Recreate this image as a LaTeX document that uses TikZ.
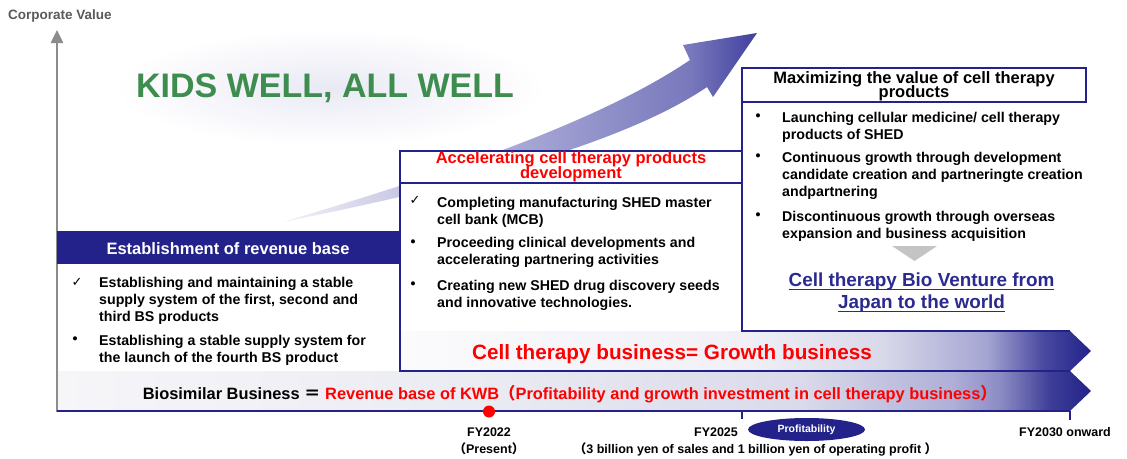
\documentclass[tikz,border=0pt]{standalone}
\usepackage{fontspec}
\setmainfont{Liberation Sans}
\newfontfamily\cjkfont{Noto Sans CJK JP}
\newfontfamily\symbfont{DejaVu Sans}
\usetikzlibrary{arrows.meta,shapes.geometric}

% palette
\definecolor{navy}{HTML}{22228A}
\definecolor{kwbred}{HTML}{FF0000}
\definecolor{axisgray}{HTML}{8C8C8C}
\definecolor{labelgray}{HTML}{5A5A5A}
\definecolor{kidsgreen}{HTML}{3E8C4E}
\definecolor{glow}{HTML}{E9E9F5}
\definecolor{venture}{HTML}{2B2B8F}
\definecolor{pointer}{HTML}{C4C4C4}
% growth band stops
\definecolor{gbA}{HTML}{FBFBFD}
\definecolor{gbB}{HTML}{F0F0F6}
\definecolor{gbC}{HTML}{D8D8EA}
\definecolor{gbD}{HTML}{A4A4D2}
\definecolor{gbE}{HTML}{4A4AA0}
% revenue band stops
\definecolor{rbA}{HTML}{F6F6F9}
\definecolor{rbB}{HTML}{EAEAF2}
\definecolor{rbC}{HTML}{DADAEA}
\definecolor{rbD}{HTML}{B0B0D8}
\definecolor{rbE}{HTML}{8C8CC4}
\definecolor{rbF}{HTML}{3E3E98}
% swoosh stops
\definecolor{swA}{HTML}{F2F2F8}
\definecolor{swB}{HTML}{C8C8E4}
\definecolor{swC}{HTML}{A0A0D2}
\definecolor{swD}{HTML}{7878BC}
\definecolor{swE}{HTML}{40409E}

\pgfdeclarehorizontalshading{growthband}{100bp}{color(0bp)=(gbA); color(25bp)=(gbA);
  color(50bp)=(gbB); color(60bp)=(gbC); color(67.5bp)=(gbD); color(71.5bp)=(gbE);
  color(75bp)=(navy); color(100bp)=(navy)}
\pgfdeclarehorizontalshading{revenueband}{100bp}{color(0bp)=(rbA); color(25bp)=(rbA);
  color(46.5bp)=(rbB); color(61bp)=(rbC); color(68.2bp)=(rbD); color(70.6bp)=(rbE);
  color(73bp)=(rbF); color(75bp)=(navy); color(100bp)=(navy)}
\pgfdeclarehorizontalshading{swoosh}{100bp}{color(0bp)=(swA); color(25bp)=(swA);
  color(37.5bp)=(swB); color(53bp)=(swC); color(68bp)=(swD); color(75bp)=(swE);
  color(100bp)=(swE)}

\newcommand\kwbitemfont{\fontsize{14.2}{17}\selectfont\bfseries}
\newcommand\kwbheadfont{\fontsize{16.5}{14.8}\selectfont\bfseries\lineskiplimit=-20pt}
\newcommand\kwbtickfont{\fontsize{12.5}{14}\selectfont\bfseries}
% underline drawn just below the baseline, through the descenders
\newsavebox\kwbulbox
\newcommand\kwbul[1]{\sbox\kwbulbox{#1}\rlap{\rule[-3pt]{\wd\kwbulbox}{1.2pt}}\usebox\kwbulbox}

\begin{document}
\begin{tikzpicture}[x=1pt,y=-1pt,
  boxline/.style={draw=navy, line width=2pt},
  itemtext/.style={anchor=north west, inner sep=0pt, align=left, font=\kwbitemfont},
  bulletmark/.style={anchor=center, inner sep=0pt, font=\kwbitemfont},
  checkmark/.style={anchor=center, inner sep=0pt, font=\symbfont\fontsize{13}{13}\selectfont},
  headtext/.style={anchor=north, inner sep=0pt, align=center, font=\kwbheadfont},
  ticklabel/.style={anchor=base, inner sep=0pt, font=\kwbtickfont},
]
\useasboundingbox (0,0) rectangle (1127,458);
\fill[white] (0,0) rectangle (1127,458);

% soft glow behind the slogan
\shade[inner color=glow, outer color=white] (330,88) ellipse [x radius=215, y radius=58];
\node[anchor=base, inner sep=0pt, font=\fontsize{34}{34}\selectfont\bfseries, text=kidsgreen]
  (kids) at (325,97) {KIDS WELL, ALL WELL};

% rising swoosh arrow
\shade[shading=swoosh] (283,222) .. controls (413,183) and (590,128) .. (690,60)
  -- (683,45) -- (757,33) -- (713,97) -- (707,87)
  .. controls (607,155) and (400,198) .. (283,222) -- cycle;

% vertical axis
\coordinate (yorigin) at (57,412);
\coordinate (ytop) at (57,30);
\draw[axisgray, line width=2.5pt, -{Triangle[length=13pt,width=12pt]}] (yorigin) -- (ytop);
\node[anchor=base west, inner sep=0pt, font=\fontsize{13.5}{14}\selectfont\bfseries, text=labelgray]
  (cv) at (8,19.5) {Corporate Value};

% white panels
\fill[white] (400,151) rectangle (742,371);
\fill[white] (742,68) rectangle (1086,331);
\fill[white] (58,264) rectangle (400,371);

% business bands with chevron ends
\shade[shading=growthband] (400,331) -- (1070,331) -- (1091,351) -- (1070,371) -- (400,371) -- cycle;
\shade[shading=revenueband] (58,371) -- (1070,371) -- (1091,391) -- (1070,411) -- (58,411) -- cycle;

% left panel header
\fill[navy] (57,231) rectangle (400,264);
\node[anchor=base, inner sep=0pt, font=\fontsize{16.5}{17}\selectfont\bfseries, text=white]
  (revhead) at (228,254.2) {Establishment of revenue base};

% middle panel frame
\draw[boxline] (400,151) rectangle (742,183);
\draw[boxline] (400,183) -- (400,371) -- (1070,371);
% right panel frame
\draw[boxline] (742,68) rectangle (1086,102);
\draw[boxline] (742,102) -- (742,331) -- (1070,331);
% horizontal axis
\draw[navy, line width=2.5pt] (57,411) -- (1070,411);
\coordinate (t25a) at (742,411); \coordinate (t25b) at (742,419);
\coordinate (t30a) at (1070,411); \coordinate (t30b) at (1070,420);
\draw[navy, line width=2pt] (t25a) -- (t25b);
\draw[navy, line width=2pt] (t30a) -- (t30b);

% left panel items
\node[checkmark] (lc1) at (77,282.5) {✓};
\node[itemtext] (li1) at (99,277) {Establishing and maintaining a stable\\supply system of the first, second and\\third BS products};
\node[bulletmark] (lb2) at (75,340.5) {•};
\node[itemtext] (li2) at (99,334.7) {Establishing a stable supply system for\\the launch of the fourth BS product};

% middle panel
\node[headtext, text=kwbred] (midhead) at (571,151.6) {Accelerating cell therapy products\\development};
\node[checkmark] (mc1) at (415,200.5) {✓};
\node[itemtext] (mi1) at (437,197) {Completing manufacturing SHED master\\cell bank (MCB)};
\node[bulletmark] (mb2) at (413,243) {•};
\node[itemtext] (mi2) at (437,237.4) {Proceeding clinical developments and\\accelerating partnering activities};
\node[bulletmark] (mb3) at (413,285) {•};
\node[itemtext] (mi3) at (437,279.7) {Creating new SHED drug discovery seeds\\and innovative technologies.};

% right panel
\node[headtext, text=black] (righthead) at (914,70.9) {Maximizing the value of cell therapy\\products};
\node[bulletmark] (rb1) at (758,117) {•};
\node[itemtext] (ri1) at (782,111.7) {Launching cellular medicine/ cell therapy\\products of SHED};
\node[bulletmark] (rb2) at (758,157.5) {•};
\node[itemtext] (ri2) at (782,152.2) {Continuous growth through development\\candidate creation and partneringte creation\\andpartnering};
\node[bulletmark] (rb3) at (758,216) {•};
\node[itemtext] (ri3) at (782,210.7) {Discontinuous growth through overseas\\expansion and business acquisition};
\fill[pointer] (892,246) -- (937,246) -- (914.5,261) -- cycle;
\node[anchor=north, inner sep=0pt, align=center, text=venture,
  font=\fontsize{18.9}{22}\selectfont\bfseries]
  (venturetext) at (921.5,273) {\kwbul{Cell therapy Bio Venture from}\\\kwbul{Japan to the world}};

% band captions
\node[anchor=base, inner sep=0pt, font=\fontsize{20.7}{22}\selectfont\bfseries, text=kwbred]
  (growth) at (672,359) {Cell therapy business= Growth business};
\node[anchor=base west, inner sep=0pt, font=\fontsize{16.4}{18}\selectfont\bfseries]
  (bios) at (142.7,399) {Biosimilar Business {\cjkfont ＝} \textcolor{kwbred}{Revenue base of KWB{\cjkfont （}Profitability and growth investment in cell therapy business{\cjkfont ）}}};

% timeline
\node[circle, fill=kwbred, minimum size=12pt, inner sep=0pt] (now) at (489,411.5) {};
\node[ticklabel] (fy22) at (489,436.5) {FY2022};
\node[ticklabel] (present) at (489,453.5) {{\cjkfont （}Present{\cjkfont ）}};
\node[ticklabel] (fy25) at (716,436.5) {FY2025};
\node[ellipse, fill=navy, minimum width=117pt, minimum height=23pt, inner sep=0pt,
  text=white, font=\fontsize{10.5}{11}\selectfont\bfseries] (profit) at (806.5,429.5) {Profitability};
\node[ticklabel] (target) at (755.5,453.5) {{\cjkfont （}3 billion yen of sales and 1 billion yen of operating profit {\cjkfont ）}};
\node[ticklabel] (fy30) at (1065,436.5) {FY2030 onward};
\end{tikzpicture}
\end{document}
